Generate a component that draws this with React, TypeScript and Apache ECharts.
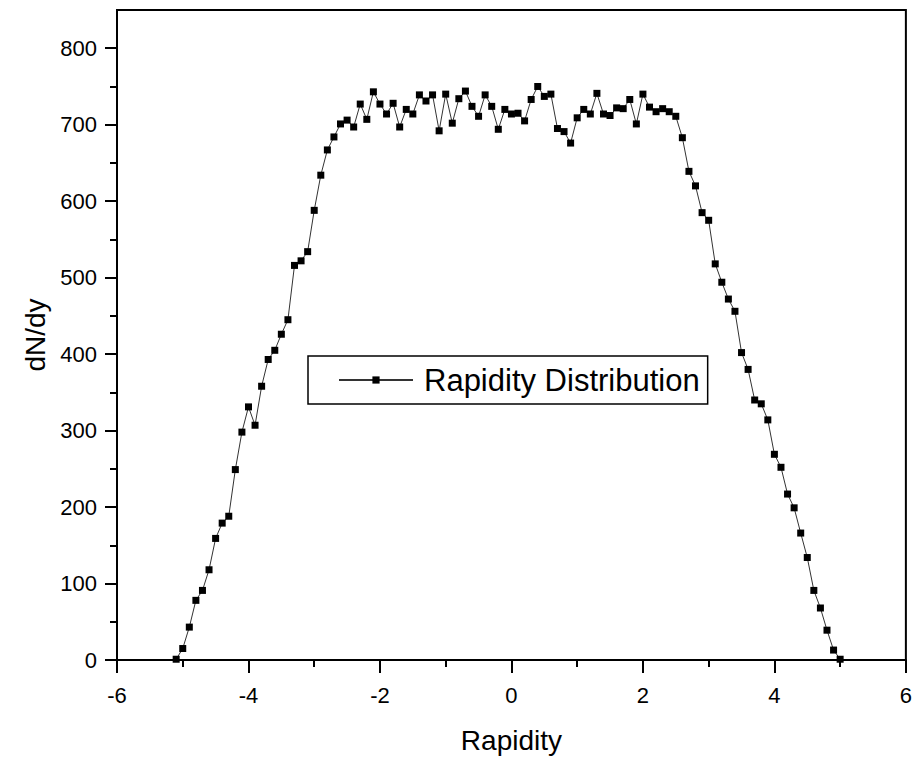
import React, { useEffect, useRef } from "react";
import * as echarts from "echarts";

const rapidity = [
  -5.1, -5.0, -4.9, -4.8, -4.7, -4.6, -4.5, -4.4, -4.3, -4.2, -4.1, -4.0,
  -3.9, -3.8, -3.7, -3.6, -3.5, -3.4, -3.3, -3.2, -3.1, -3.0, -2.9, -2.8,
  -2.7, -2.6, -2.5, -2.4, -2.3, -2.2, -2.1, -2.0, -1.9, -1.8, -1.7, -1.6,
  -1.5, -1.4, -1.3, -1.2, -1.1, -1.0, -0.9, -0.8, -0.7, -0.6, -0.5, -0.4,
  -0.3, -0.2, -0.1, 0.0, 0.1, 0.2, 0.3, 0.4, 0.5, 0.6, 0.7, 0.8,
  0.9, 1.0, 1.1, 1.2, 1.3, 1.4, 1.5, 1.6, 1.7, 1.8, 1.9, 2.0,
  2.1, 2.2, 2.3, 2.4, 2.5, 2.6, 2.7, 2.8, 2.9, 3.0, 3.1, 3.2,
  3.3, 3.4, 3.5, 3.6, 3.7, 3.8, 3.9, 4.0, 4.1, 4.2, 4.3, 4.4,
  4.5, 4.6, 4.7, 4.8, 4.9, 5.0,
];

const dNdy = [
  1, 15, 43, 78, 91, 118, 159, 179, 188, 249, 298, 331,
  307, 358, 393, 405, 426, 445, 516, 522, 534, 588, 634, 667,
  684, 701, 706, 697, 727, 707, 743, 727, 714, 728, 697, 720,
  714, 739, 731, 739, 692, 740, 702, 734, 744, 724, 711, 739,
  724, 694, 720, 714, 715, 705, 733, 750, 737, 740, 695, 691,
  676, 709, 720, 714, 741, 714, 712, 722, 721, 733, 701, 740,
  723, 717, 721, 717, 711, 683, 639, 620, 585, 575, 518, 494,
  472, 456, 402, 380, 340, 335, 314, 269, 252, 217, 199, 166,
  134, 91, 68, 39, 13, 1,
];

const yMajorTicks = [0, 100, 200, 300, 400, 500, 600, 700, 800];
const yMinorTicks = [50, 150, 250, 350, 450, 550, 650, 750];

const seriesName = "Rapidity Distribution";
const xTitle = "Rapidity";
const yTitle = "dN/dy";

const FONT = "Arial, 'Liberation Sans', Helvetica, sans-serif";

export default function App() {
  const ref = useRef<HTMLDivElement>(null);

  useEffect(() => {
    document.body.style.margin = "0";
    if (!ref.current) return;
    const chart = echarts.init(ref.current, null, { renderer: "svg" });
    const axisLineStyle = { color: "#000", width: 2 };
    chart.setOption({
      animation: false,
      backgroundColor: "#fff",
      grid: {
        left: 117,
        right: 3,
        top: 10,
        bottom: 100,
        show: true,
        borderColor: "#000",
        borderWidth: 2,
        backgroundColor: "transparent",
      },
      legend: {
        left: 308,
        top: 356,
        orient: "horizontal",
        padding: [7, 8, 7, 30],
        itemWidth: 74,
        itemHeight: 9,
        borderColor: "#000",
        borderWidth: 1.5,
        borderRadius: 0,
        backgroundColor: "#fff",
        data: [seriesName],
        textStyle: {
          fontFamily: FONT,
          fontSize: 31,
          color: "#000",
          lineHeight: 34,
          padding: [0, 0, 0, 6],
        },
      },
      xAxis: {
        type: "value",
        min: -6,
        max: 6,
        interval: 2,
        name: xTitle,
        nameLocation: "middle",
        nameGap: 66,
        nameTextStyle: { fontFamily: FONT, fontSize: 28, color: "#000" },
        axisLine: { show: true, onZero: false, lineStyle: axisLineStyle },
        axisTick: { show: true, inside: false, length: 13, lineStyle: axisLineStyle },
        minorTick: { show: true, splitNumber: 2, length: 7, lineStyle: axisLineStyle },
        axisLabel: { fontFamily: FONT, fontSize: 22, color: "#000", margin: 24 },
        splitLine: { show: false },
      },
      yAxis: [
        {
          type: "value",
          min: 0,
          max: 850,
          interval: 100,
          position: "left",
          name: yTitle,
          nameLocation: "middle",
          nameGap: 68,
          nameTextStyle: { fontFamily: FONT, fontSize: 28, color: "#000" },
          axisLine: { show: true, onZero: false, lineStyle: axisLineStyle },
          axisTick: {
            show: true,
            inside: false,
            length: 12,
            lineStyle: axisLineStyle,
            customValues: yMajorTicks,
          },
          axisLabel: {
            fontFamily: FONT,
            fontSize: 22,
            color: "#000",
            margin: 20,
            customValues: yMajorTicks,
          },
          splitLine: { show: false },
        },
        {
          type: "value",
          min: 0,
          max: 850,
          interval: 50,
          position: "left",
          axisLine: { show: false, onZero: false },
          axisTick: {
            show: true,
            inside: false,
            length: 7,
            lineStyle: axisLineStyle,
            customValues: yMinorTicks,
          },
          axisLabel: { show: false },
          splitLine: { show: false },
        },
      ],
      series: [
        {
          name: seriesName,
          type: "line",
          yAxisIndex: 0,
          data: rapidity.map((x, i) => [x, dNdy[i]]),
          symbol: "rect",
          symbolSize: 7,
          showAllSymbol: true,
          itemStyle: { color: "#000" },
          lineStyle: { color: "#333", width: 1 },
          clip: false,
        },
      ],
    });
    return () => chart.dispose();
  }, []);

  return <div ref={ref} style={{ width: 915, height: 760 }} />;
}
